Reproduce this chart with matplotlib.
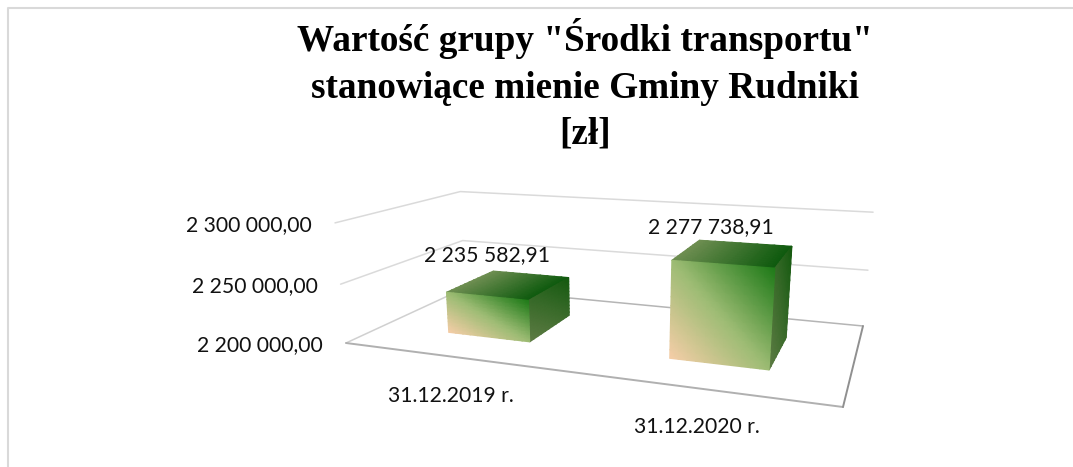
import numpy as np
import matplotlib
matplotlib.use("Agg")
import matplotlib.pyplot as plt
from matplotlib.colors import LinearSegmentedColormap

title = 'Wartość grupy "Środki transportu"\nstanowiące mienie Gminy Rudniki\n[zł]'
categories = ["31.12.2019 r.", "31.12.2020 r."]
values = [2235582.91, 2277738.91]
value_labels = ["2 235 582,91", "2 277 738,91"]
ticks = [2200000, 2250000, 2300000]
tick_labels = ["2 200 000,00", "2 250 000,00", "2 300 000,00"]

# pixel corners of the floor: front-left, front-right, back-right, back-left
FLOOR = [(346, 343), (843, 407), (863, 326), (465, 288)]
# vertical vanishing point and the pixel position of the top front-left corner
VANISH = (608, 3204)
TOP_FRONT_LEFT_X = 335
BAR_CENTRES = [0.26, 0.757]
BAR_HALF_U = 0.097
BAR_D = (0.28, 0.71)


def homography(quad):
    src = [(0, 0), (1, 0), (1, 1), (0, 1)]
    a, b = [], []
    for (u, d), (x, y) in zip(src, quad):
        a.append([u, d, 1, 0, 0, 0, -u * x, -d * x])
        a.append([0, 0, 0, u, d, 1, -u * y, -d * y])
        b += [x, y]
    return np.append(np.linalg.solve(np.array(a, float), np.array(b, float)), 1).reshape(3, 3)


H_FLOOR = homography(FLOOR)
V_SCALE = (TOP_FRONT_LEFT_X - FLOOR[0][0]) / (VANISH[0] - TOP_FRONT_LEFT_X)


def project(u, d, value):
    # u along categories, d into the chart, value on the vertical axis
    t = (np.asarray(value) - ticks[0]) / (ticks[-1] - ticks[0])
    h = H_FLOOR
    x = h[0, 0] * u + h[0, 1] * d + h[0, 2] + t * V_SCALE * VANISH[0]
    y = h[1, 0] * u + h[1, 1] * d + h[1, 2] + t * V_SCALE * VANISH[1]
    w = h[2, 0] * u + h[2, 1] * d + h[2, 2] + t * V_SCALE
    return x / w, y / w


front_cmap = LinearSegmentedColormap.from_list("front", ["#F6CEA8", "#9DBC74", "#1F7A18"])
top_cmap = LinearSegmentedColormap.from_list("top", ["#6F8F52", "#0E5A0E"])
side_cmap = LinearSegmentedColormap.from_list("side", ["#14590F", "#5F7C45"])


def face(ax, us, ds, vals, colour, cmap):
    ax.pcolormesh(*project(us, ds, vals), colour, cmap=cmap, vmin=0, vmax=1,
                  shading="gouraud", zorder=3, rasterized=True)


def draw_bar(ax, centre, value):
    u0, u1 = centre - BAR_HALF_U, centre + BAR_HALF_U
    d0, d1 = BAR_D
    low = ticks[0]
    s, t = np.meshgrid(np.linspace(0, 1, 12), np.linspace(0, 1, 12))
    # top
    face(ax, u0 + (u1 - u0) * s, d0 + (d1 - d0) * t, value + 0 * s, s, top_cmap)
    # right side
    face(ax, u1 + 0 * s, d0 + (d1 - d0) * s, low + (value - low) * t, (1 - t + (1 - s)) / 2, side_cmap)
    # front
    face(ax, u0 + (u1 - u0) * s, d0 + 0 * s, low + (value - low) * t, (s + t) / 2, front_cmap)


def line(ax, points, colour, width=1.1):
    xs, ys = zip(*[project(*p) for p in points])
    ax.plot(xs, ys, color=colour, lw=width, zorder=1, solid_capstyle="round")


fig = plt.figure(figsize=(10.73, 4.67), dpi=100)
ax = fig.add_axes([0, 0, 1, 1])
ax.set_xlim(0, 1073)
ax.set_ylim(467, 0)
ax.axis("off")

# outer chart frame, only the top and left sides show
ax.plot([8, 8, 1073], [467, 8, 8], color="#D9D9D9", lw=1.5, zorder=0)

for tick in ticks[1:]:
    line(ax, [(0, 0, tick), (0, 1, tick), (1, 1, tick)], "#DADADA")
line(ax, [(0, 0, ticks[0]), (0, 1, ticks[0])], "#D0D0D0")
line(ax, [(0, 1, ticks[0]), (1, 1, ticks[0])], "#B5B5B5")
line(ax, [(0, 0, ticks[0]), (1, 0, ticks[0])], "#B0B0B0", 1.4)
line(ax, [(1, 0, ticks[0]), (1, 1, ticks[0])], "#909090", 1.4)

for centre, value in zip(BAR_CENTRES, values):
    draw_bar(ax, centre, value)

font = {"family": ["Lato", "DejaVu Sans"], "fontsize": 15.2, "color": "#111111"}
for tick, label in zip(ticks, tick_labels):
    x, y = project(0, 0, tick)
    ax.text(x - 23, y + 2, label, ha="right", va="center", **font)

label_pos = [(487, 255), (710.5, 227)]
for (x, y), label in zip(label_pos, value_labels):
    ax.text(x, y, label, ha="center", va="center", **font)

cat_pos = [(451, 396), (697, 427)]
for (x, y), label in zip(cat_pos, categories):
    ax.text(x, y, label, ha="center", va="center", **font)

ax.text(585, 85, title, ha="center", va="center", family=["Liberation Serif", "DejaVu Serif"],
        fontsize=26.8, fontweight="bold", color="black", linespacing=1.41, multialignment="center")

fig.savefig("out.png", dpi=100)
